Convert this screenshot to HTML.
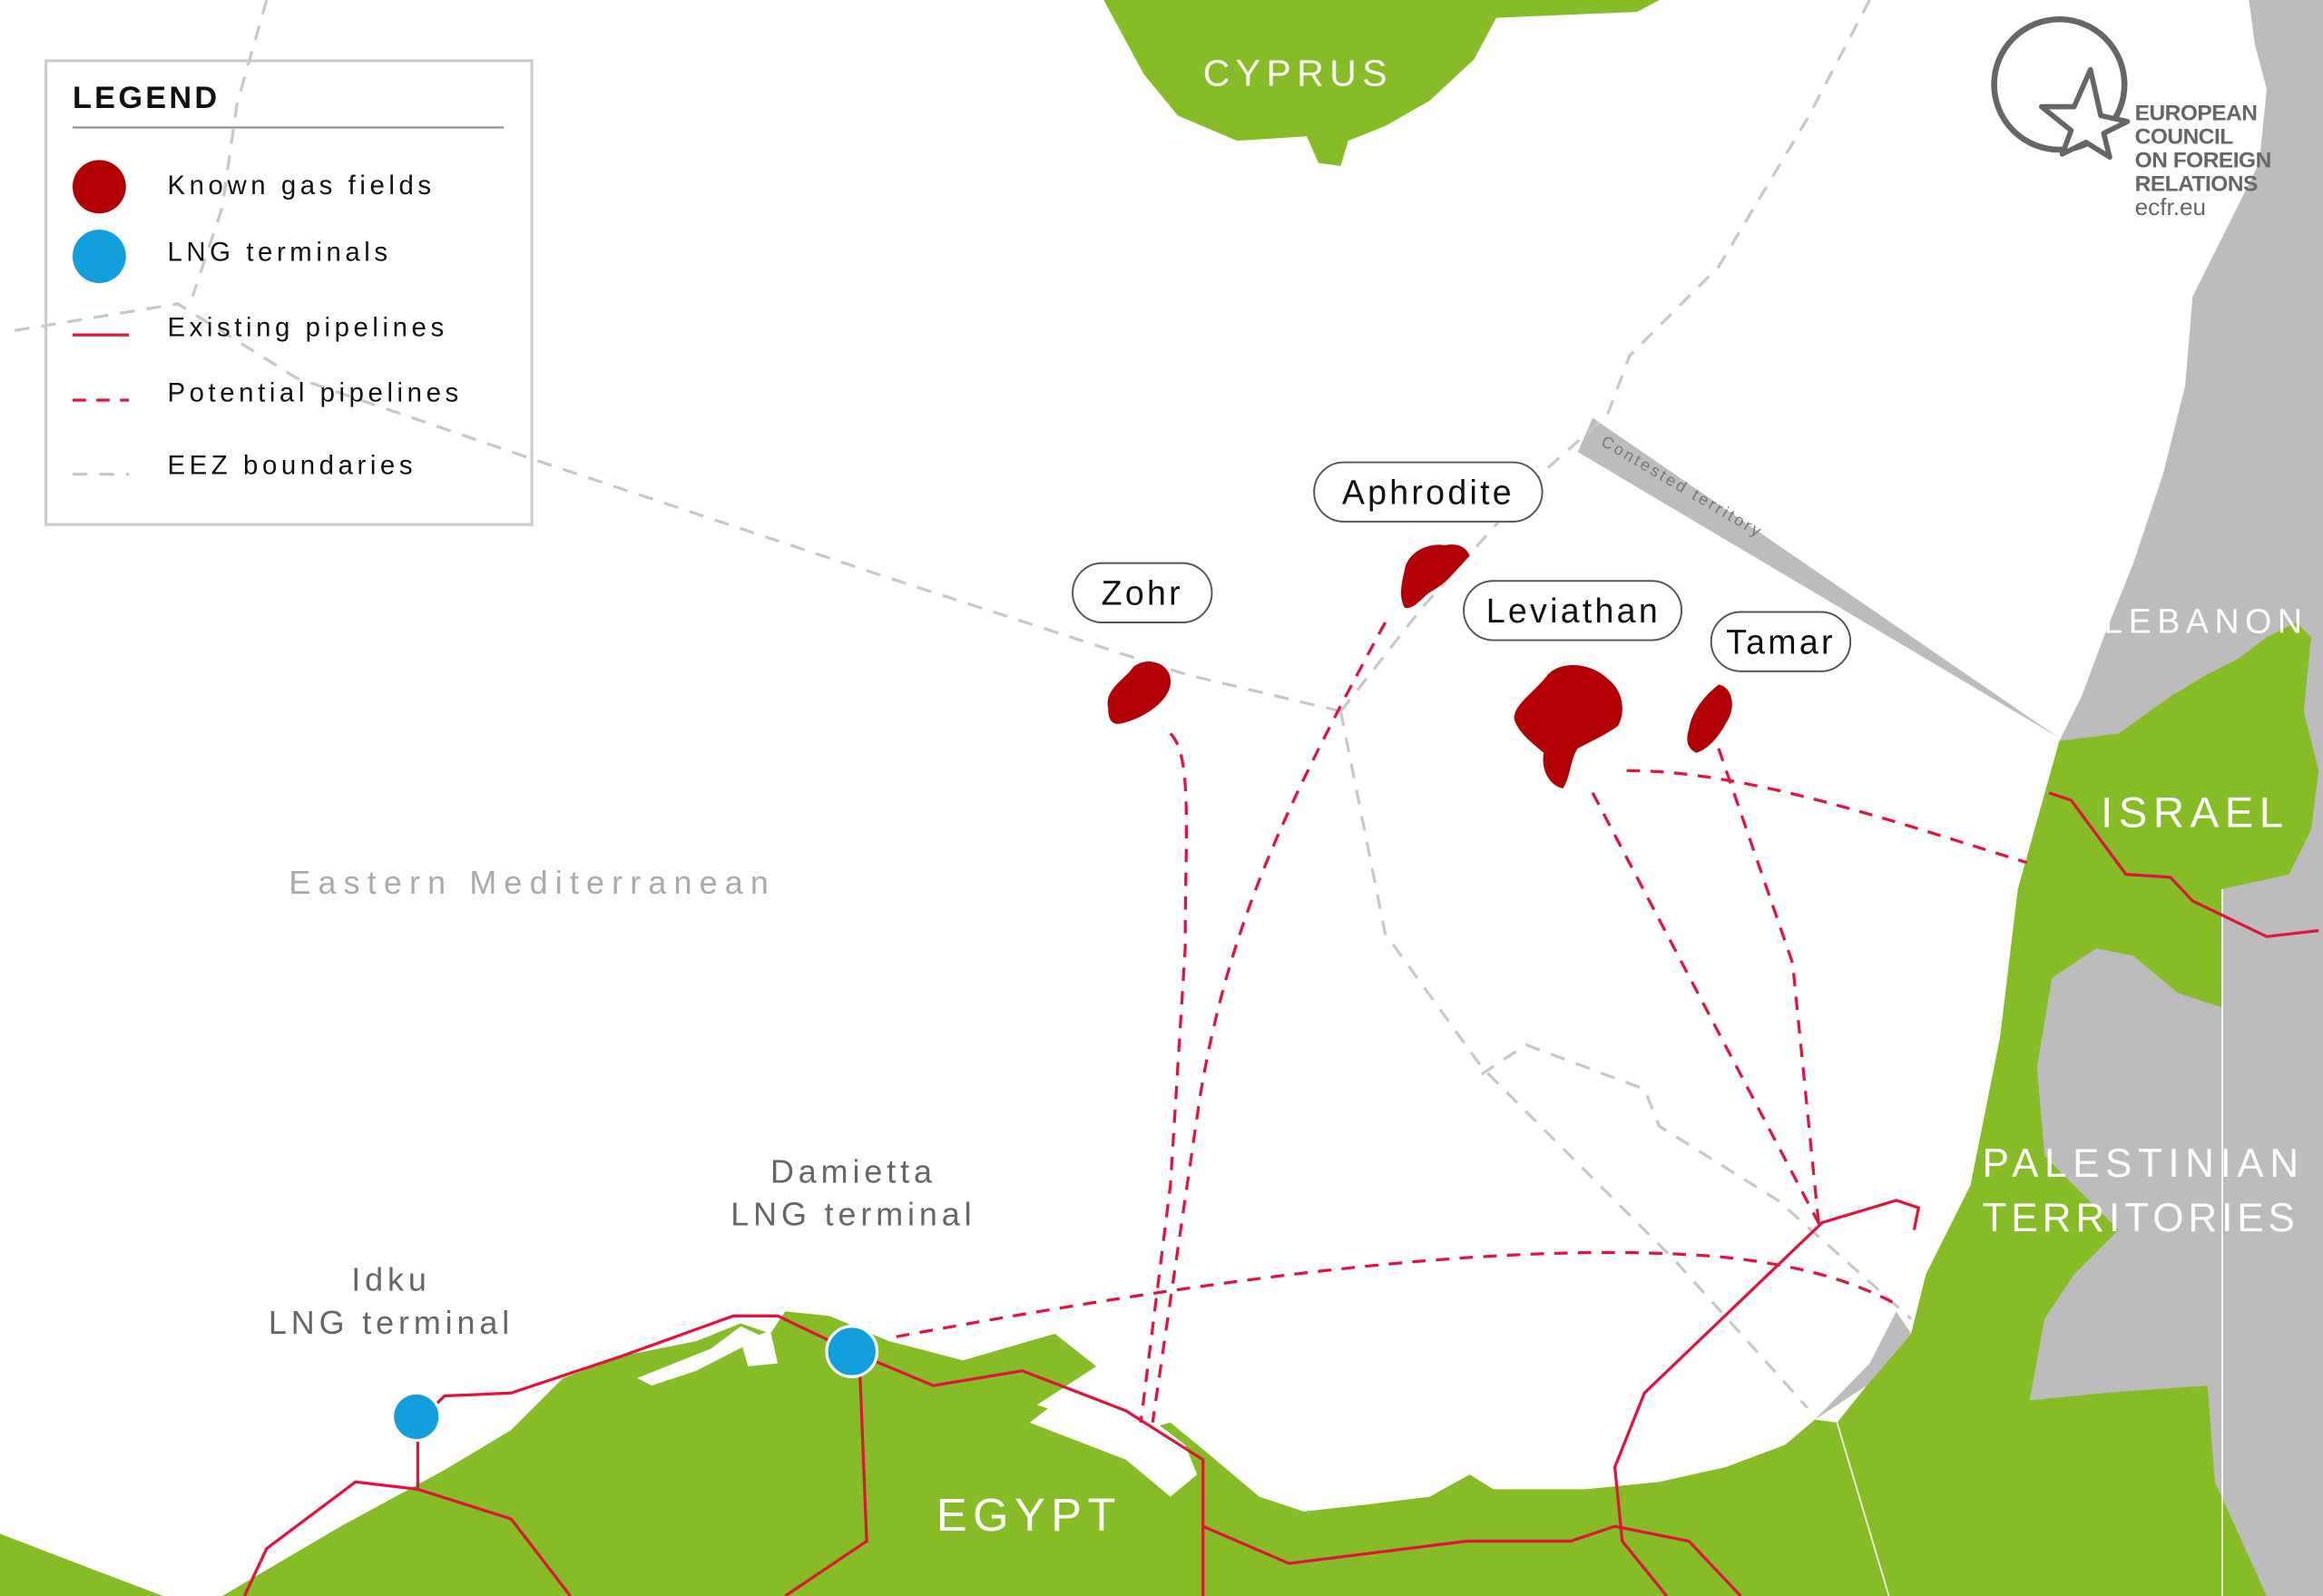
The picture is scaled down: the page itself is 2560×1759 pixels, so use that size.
<!DOCTYPE html>
<html><head><meta charset="utf-8"><style>
html,body{margin:0;padding:0;background:#fff;}
svg{display:block;}
text{font-family:"Liberation Sans",sans-serif;}
</style></head><body>
<svg width="2560" height="1759" viewBox="0 0 1568 1077" preserveAspectRatio="none" xmlns="http://www.w3.org/2000/svg">
<rect width="1568" height="1077" fill="#fff"/>
<path d="M745,0 L1120,0 L1105,8 L1010,12 L995,40 L965,68 L935,85 L910,95 L905,112 L890,110 L882,92 L835,95 L795,78 L772,50 Z" fill="#86bc25"/>
<path d="M1518,0 L1568,0 L1568,1077 L1280,1077 L1240,960 L1290,900 L1300,860 L1330,800 L1355,700 L1365,600 L1390,500 L1405,470 L1420,430 L1440,380 L1460,320 L1475,260 L1480,200 L1500,160 L1525,110 L1530,60 L1522,30 Z" fill="#bdbcbc"/>
<path d="M0,1035 L60,1058 L110,1077 L150,1077 L230,1030 L300,992 L345,965 L380,930 L420,915 L470,905 L500,893 L520,900 L530,885 L560,888 L600,905 L650,918 L712,900 L740,922 L700,948 L760,968 L790,960 L812,978 L850,1010 L880,1020 L925,1015 L965,1010 L992,995 L1008,1005 L1070,1005 L1120,1000 L1165,990 L1205,975 L1225,958 L1240,960 L1260,935 L1290,900 L1300,860 L1330,800 L1350,700 L1362,600 L1390,500 L1430,495 L1465,470 L1490,455 L1510,445 L1530,430 L1550,420 L1560,430 L1555,480 L1565,520 L1560,560 L1545,590 L1500,600 L1500,680 L1470,670 L1440,645 L1415,640 L1385,660 L1375,720 L1380,780 L1400,800 L1430,830 L1400,860 L1380,890 L1370,945 L1420,940 L1490,935 L1495,1000 L1530,1077 L0,1077 Z" fill="#86bc25"/>
<path d="M1225,958 L1260,935 L1290,900 L1280,885 L1262,920 L1225,958 Z" fill="#bdbcbc"/>
<path d="M430,930 L480,910 L500,895 L515,902 L470,925 L440,935 Z" fill="#fff"/>
<path d="M500,905 L520,898 L525,920 L505,922 Z" fill="#fff"/>
<path d="M695,960 L740,925 L760,945 L800,975 L808,995 L790,1010 L760,985 Z" fill="#fff"/>
<g stroke="#fff" stroke-width="1" fill="none">
<path d="M1240,960 L1275,1077"/>
<path d="M1500,600 L1500,1077"/>
</g>
<path d="M1075,282 L1065,305 L1390,498 Z" fill="#bdbcbc"/>
<text x="1080" y="300" font-size="11" fill="#777" letter-spacing="1.8" transform="rotate(30.5 1080 300)">Contested territory</text>
<g stroke="#c8c8c8" stroke-width="2" fill="none" stroke-dasharray="10,8">
<path d="M180,0 L160,70 L150,140 L130,200"/>
<path d="M10,223 L120,205 L200,255 L360,310 L600,390 L800,455 L905,480"/>
<path d="M1262,0 L1220,80 L1160,180 L1100,240 L1085,280 L1040,320 L960,410 L905,480"/>
<path d="M905,480 L935,630 L1000,720 L1130,850 L1220,950"/>
<path d="M1000,725 L1030,705 L1110,735 L1120,760 L1200,810 L1290,890"/>
</g>
<g stroke="#e0143c" stroke-width="2" fill="none">
<path d="M165,1077 L180,1045 L240,1000 L282,1005 L345,1025 L385,1077"/>
<path d="M282,1005 L282,960 L300,942 L345,940 L420,915 L495,888 L525,888 L575,912 L630,935 L690,925 L760,952 L812,985 L812,1077"/>
<path d="M580,915 L585,1040 L530,1077"/>
<path d="M812,1030 L870,1055 L990,1040 L1060,1040 L1090,1030 L1140,1040 L1175,1077"/>
<path d="M1125,1077 L1095,1040 L1090,990 L1110,940 L1230,825 L1280,810 L1295,815 L1292,830"/>
<path d="M1383,535 L1398,540 L1435,590 L1465,592 L1480,608 L1530,632 L1565,628"/>
</g>
<g stroke="#e0143c" stroke-width="2" fill="none" stroke-dasharray="9,7">
<path d="M790,495 C805,510 800,560 800,640 L790,800 L770,960"/>
<path d="M935,420 C870,540 830,620 810,740 L778,960"/>
<path d="M605,902 C780,870 1000,835 1160,848 C1230,855 1260,870 1280,880"/>
<path d="M1075,535 L1230,830"/>
<path d="M1160,505 L1210,650 L1228,830"/>
<path d="M1098,520 C1180,520 1280,555 1368,582"/>
</g>
<g fill="#b30006">
<path d="M748,478 C745,465 760,458 765,450 C775,442 792,448 790,462 C788,475 770,485 758,488 C750,490 748,485 748,478 Z"/>
<path d="M948,385 C950,372 965,366 975,368 C985,366 990,370 992,375 C985,382 978,392 968,398 C960,402 955,412 948,410 C944,402 946,394 948,385 Z"/>
<path d="M1045,455 C1055,445 1075,448 1085,458 C1095,465 1098,480 1092,490 C1085,495 1075,500 1065,505 C1060,512 1060,525 1055,532 C1045,530 1040,518 1042,508 C1035,502 1025,495 1022,485 C1022,475 1035,468 1045,455 Z"/>
<path d="M1140,492 C1142,480 1150,470 1160,462 C1170,464 1172,478 1165,488 C1160,498 1152,506 1145,508 C1138,505 1138,498 1140,492 Z"/>
</g>
<g fill="#fff" stroke="#555" stroke-width="1.2">
<rect x="724" y="380" width="94" height="40" rx="20"/>
<rect x="887" y="312" width="154" height="40" rx="20"/>
<rect x="988" y="392" width="147" height="40" rx="20"/>
<rect x="1155" y="413" width="94" height="40" rx="20"/>
</g>
<g font-size="23" fill="#111" text-anchor="middle" letter-spacing="2">
<text x="771" y="408">Zohr</text>
<text x="964" y="340">Aphrodite</text>
<text x="1062" y="420">Leviathan</text>
<text x="1202" y="441">Tamar</text>
</g>
<circle cx="281" cy="956" r="16" fill="#119fdd" stroke="#fff" stroke-width="2"/>
<circle cx="575" cy="912" r="17" fill="#119fdd" stroke="#fff" stroke-width="2"/>
<g fill="#fff" font-size="27" letter-spacing="4">
<text x="812" y="58" font-size="25">CYPRUS</text>
<text x="632" y="1033" font-size="31">EGYPT</text>
<text x="1418" y="558" font-size="29">ISRAEL</text>
<text x="1420" y="427" font-size="23">LEBANON</text>
<text x="1338" y="794">PALESTINIAN</text>
<text x="1338" y="831" letter-spacing="3">TERRITORIES</text>
</g>
<text x="195" y="603" font-size="22" fill="#aaa" letter-spacing="5">Eastern Mediterranean</text>
<g fill="#666" font-size="22" letter-spacing="3" text-anchor="middle">
<text x="576" y="798">Damietta</text>
<text x="576" y="827">LNG terminal</text>
<text x="264" y="871">Idku</text>
<text x="264" y="900">LNG terminal</text>
</g>
<rect x="31" y="41" width="328" height="313" fill="none" stroke="#ccc" stroke-width="2"/>
<text x="49" y="73" font-size="21" font-weight="bold" fill="#111" letter-spacing="2">LEGEND</text>
<line x1="49" y1="86" x2="340" y2="86" stroke="#888" stroke-width="1.2"/>
<circle cx="67" cy="126" r="18" fill="#b30006"/>
<circle cx="67" cy="173" r="18" fill="#119fdd"/>
<line x1="49" y1="226" x2="87" y2="226" stroke="#e0143c" stroke-width="2"/>
<line x1="49" y1="270" x2="87" y2="270" stroke="#e0143c" stroke-width="2" stroke-dasharray="9,7"/>
<line x1="49" y1="320" x2="87" y2="320" stroke="#c8c8c8" stroke-width="2" stroke-dasharray="10,8"/>
<g font-size="18" fill="#111" letter-spacing="2.8">
<text x="113" y="131">Known gas fields</text>
<text x="113" y="176">LNG terminals</text>
<text x="113" y="227">Existing pipelines</text>
<text x="113" y="271">Potential pipelines</text>
<text x="113" y="320">EEZ boundaries</text>
</g>
<circle cx="1390" cy="57" r="44" fill="none" stroke="#666" stroke-width="4"/>
<path d="M1411,47 L1418,78 L1436,82 L1420,90 L1424,106 L1408,96 L1392,104 L1398,88 L1378,72 L1400,72 Z" fill="#fff" stroke="#666" stroke-width="3.5" stroke-linejoin="round"/>
<g font-size="15" font-weight="bold" fill="#666" letter-spacing="-0.3">
<text x="1441" y="81">EUROPEAN</text>
<text x="1441" y="97">COUNCIL</text>
<text x="1441" y="113">ON FOREIGN</text>
<text x="1441" y="129">RELATIONS</text>
</g>
<text x="1441" y="145" font-size="16" fill="#666">ecfr.eu</text>
</svg>
</body></html>
